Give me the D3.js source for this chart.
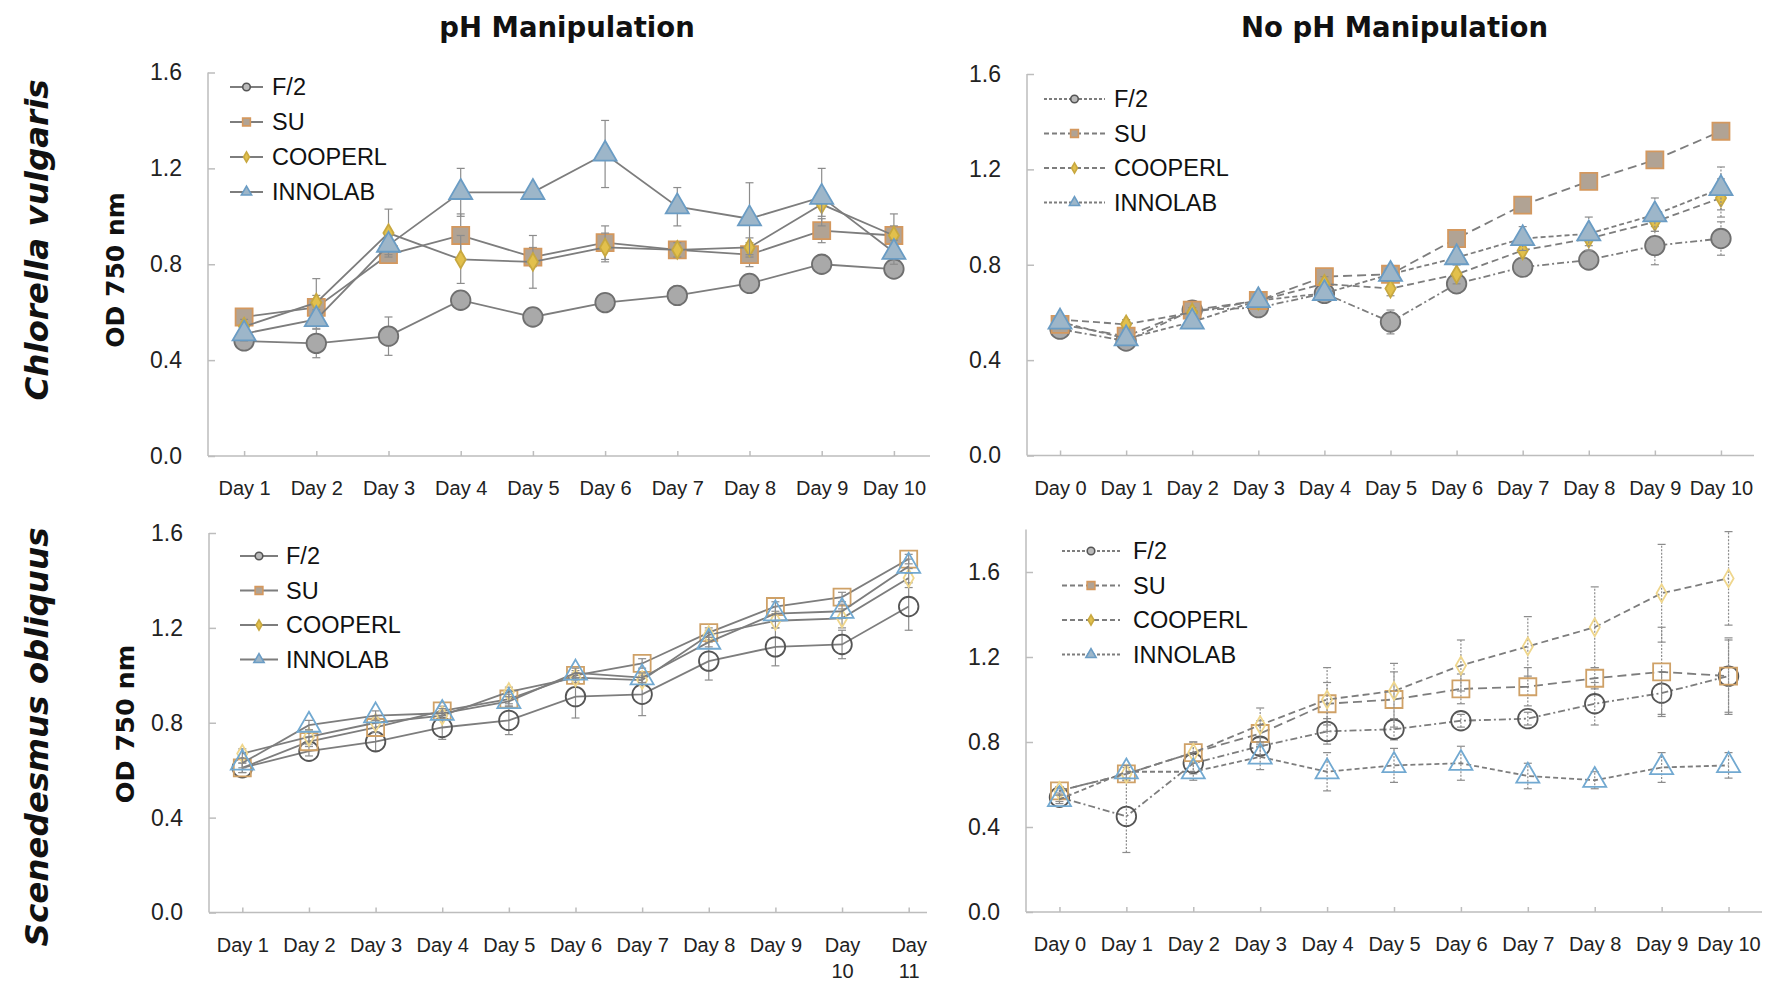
<!DOCTYPE html>
<html>
<head>
<meta charset="utf-8">
<script src="https://cdn.jsdelivr.net/npm/d3@7"></script>
<style>
  html, body { margin: 0; padding: 0; background: #ffffff; }
  svg { display: block; }
</style>
</head>
<body>
<svg id="chart" width="1771" height="985"></svg>
<script>
// ---------------- DATA ----------------
const seriesNames = ["F/2", "SU", "COOPERL", "INNOLAB"];
const yTicks = [0, 0.4, 0.8, 1.2, 1.6];

// Panel A: Chlorella vulgaris, pH manipulation
const daysA = ["Day 1","Day 2","Day 3","Day 4","Day 5","Day 6","Day 7","Day 8","Day 9","Day 10"];
const A_F2      = [0.48,0.47,0.50,0.65,0.58,0.64,0.67,0.72,0.80,0.78];
const A_F2_err  = [0.02,0.06,0.08,0.02,0.02,0.02,0.04,0.02,0.02,0.02];
const A_SU      = [0.58,0.62,0.84,0.92,0.83,0.89,0.86,0.84,0.94,0.92];
const A_SU_err  = [0.03,0.05,0.03,0.09,0.04,0.07,0.02,0.05,0.05,0.09];
const A_CO      = [0.54,0.64,0.93,0.82,0.81,0.87,0.86,0.87,1.05,0.92];
const A_CO_err  = [0.03,0.10,0.10,0.10,0.11,0.06,0.03,0.04,0.05,0.04];
const A_IN      = [0.51,0.57,0.88,1.10,1.10,1.26,1.04,0.99,1.08,0.85];
const A_IN_err  = [0.03,0.04,0.04,0.10,0.02,0.14,0.08,0.15,0.12,0.05];

// Panel B: Chlorella vulgaris, no pH manipulation
const daysB = ["Day 0","Day 1","Day 2","Day 3","Day 4","Day 5","Day 6","Day 7","Day 8","Day 9","Day 10"];
const B_F2      = [0.53,0.48,0.61,0.62,0.68,0.56,0.72,0.79,0.82,0.88,0.91];
const B_F2_err  = [0.02,0.02,0.02,0.02,0.02,0.05,0.04,0.02,0.04,0.08,0.07];
const B_SU      = [0.55,0.50,0.61,0.65,0.75,0.76,0.91,1.05,1.15,1.24,1.36];
const B_SU_err  = [0.02,0.02,0.02,0.02,0.02,0.02,0.02,0.02,0.02,0.02,0.02];
const B_CO      = [0.57,0.55,0.60,0.65,0.72,0.70,0.76,0.86,0.91,0.98,1.08];
const B_CO_err  = [0.02,0.02,0.02,0.02,0.03,0.03,0.04,0.03,0.03,0.04,0.08];
const B_IN      = [0.56,0.49,0.56,0.65,0.68,0.76,0.83,0.91,0.93,1.01,1.12];
const B_IN_err  = [0.02,0.02,0.02,0.02,0.02,0.02,0.03,0.05,0.07,0.07,0.09];

// Panel C: Scenedesmus obliquus, pH manipulation
const daysC = ["Day 1","Day 2","Day 3","Day 4","Day 5","Day 6","Day 7","Day 8","Day 9","Day 10","Day 11"];
const C_F2      = [0.61,0.68,0.72,0.78,0.81,0.91,0.92,1.06,1.12,1.13,1.29];
const C_F2_err  = [0.02,0.02,0.04,0.05,0.06,0.09,0.09,0.08,0.08,0.06,0.10];
const C_SU      = [0.61,0.72,0.78,0.85,0.90,1.00,1.05,1.18,1.29,1.33,1.49];
const C_SU_err  = [0.02,0.02,0.02,0.02,0.02,0.02,0.02,0.02,0.02,0.02,0.02];
const C_CO      = [0.67,0.74,0.80,0.83,0.93,0.99,0.98,1.17,1.23,1.24,1.41];
const C_CO_err  = [0.02,0.03,0.02,0.02,0.02,0.02,0.02,0.02,0.03,0.04,0.04];
const C_IN      = [0.63,0.79,0.83,0.84,0.89,1.01,0.99,1.14,1.26,1.27,1.46];
const C_IN_err  = [0.02,0.02,0.02,0.02,0.02,0.02,0.02,0.02,0.03,0.03,0.03];

// Panel D: Scenedesmus obliquus, no pH manipulation
const daysD = ["Day 0","Day 1","Day 2","Day 3","Day 4","Day 5","Day 6","Day 7","Day 8","Day 9","Day 10"];
const D_F2      = [0.54,0.45,0.70,0.78,0.85,0.86,0.90,0.91,0.98,1.03,1.11];
const D_F2_err  = [0.02,0.17,0.05,0.04,0.06,0.05,0.03,0.03,0.10,0.10,0.18];
const D_SU      = [0.57,0.65,0.75,0.84,0.98,1.00,1.05,1.06,1.10,1.13,1.11];
const D_SU_err  = [0.02,0.04,0.05,0.06,0.10,0.13,0.07,0.09,0.05,0.21,0.17];
const D_CO      = [0.57,0.65,0.75,0.88,1.00,1.04,1.16,1.25,1.34,1.50,1.57];
const D_CO_err  = [0.02,0.03,0.05,0.08,0.15,0.13,0.12,0.14,0.19,0.23,0.22];
const D_IN      = [0.53,0.66,0.66,0.73,0.66,0.69,0.70,0.64,0.62,0.68,0.69];
const D_IN_err  = [0.02,0.03,0.04,0.06,0.09,0.08,0.08,0.06,0.04,0.07,0.06];

// ---------------- STYLES ----------------
const symbols = [d3.symbolCircle, d3.symbolSquare, d3.symbolDiamond, d3.symbolTriangle];
const symSizes = [300, 290, 90, 230];
const legSizes = [45, 60, 30, 45];
const filledStyle = [
  {fill: "#a9a9a9", stroke: "#6f6f6f"},
  {fill: "#b1a394", stroke: "#d4985e"},
  {fill: "#e2c04c", stroke: "#c8a840"},
  {fill: "#9db6c9", stroke: "#6a9cc4"}
];
const openStyle = [
  {fill: "none", stroke: "#555555"},
  {fill: "none", stroke: "#cfa167"},
  {fill: "none", stroke: "#efd68c"},
  {fill: "none", stroke: "#72a9d1"}
];
const dashes = ["7,3,2,3", "9,5", "7,4", "5,3"];

const svg = d3.select("#chart");
const FONT = "'Liberation Sans', Arial, sans-serif";
const BOLD = "'DejaVu Sans', sans-serif";

function drawPanel(cfg) {
  const g = svg.append("g");
  const x = d3.scalePoint().domain(cfg.days).range([cfg.xl, cfg.xr]).padding(0.5);
  const y = d3.scaleLinear().domain([0, cfg.ymax]).range([cfg.y0, cfg.ytop]);

  // y axis
  const ya = g.append("g").attr("transform", `translate(${cfg.xl},0)`)
    .call(d3.axisLeft(y).tickValues(yTicks).tickFormat(d3.format(".1f"))
      .tickSizeInner(-7).tickSizeOuter(0).tickPadding(26));
  ya.select(".domain").remove();
  ya.selectAll(".tick line").attr("stroke", "#bdbdbd").attr("stroke-width", 1.5);
  ya.selectAll(".tick text").attr("font-family", FONT).attr("font-size", 23).attr("fill", "#222");
  g.append("line").attr("x1", cfg.xl).attr("x2", cfg.xl).attr("y1", cfg.y0).attr("y2", y(cfg.ymax))
    .attr("stroke", "#bdbdbd").attr("stroke-width", 1.5);

  // x axis
  const xa = g.append("g").attr("transform", `translate(0,${cfg.y0})`)
    .call(d3.axisBottom(x).tickSizeInner(-5).tickSizeOuter(0).tickPadding(25));
  xa.select(".domain").remove();
  xa.selectAll(".tick line").attr("stroke", "#bdbdbd").attr("stroke-width", 1.5);
  xa.selectAll(".tick text").attr("font-family", FONT).attr("font-size", 20).attr("fill", "#222");
  if (cfg.wrap) {
    xa.selectAll(".tick text").each(function(d) {
      const parts = d.split(" ");
      if (parts[1].length > 1) {
        const t = d3.select(this);
        t.text(null);
        t.append("tspan").attr("x", 0).text(parts[0]);
        t.append("tspan").attr("x", 0).attr("dy", "1.3em").text(parts[1]);
      }
    });
  }
  g.append("line").attr("x1", cfg.xl).attr("x2", cfg.axisEnd).attr("y1", cfg.y0).attr("y2", cfg.y0)
    .attr("stroke", "#bdbdbd").attr("stroke-width", 1.5);

  const styles = cfg.open ? openStyle : filledStyle;
  const line = d3.line().x((d, i) => x(cfg.days[i])).y(d => y(d));

  cfg.series.forEach((vals, si) => {
    const errs = cfg.errs[si];
    const sg = g.append("g");
    // error bars
    vals.forEach((v, i) => {
      const cx = x(cfg.days[i]);
      const e = errs[i];
      sg.append("line").attr("x1", cx).attr("x2", cx).attr("y1", y(v - e)).attr("y2", y(v + e))
        .attr("stroke", "#8c8c8c").attr("stroke-width", 1.2)
        .attr("stroke-dasharray", cfg.dashed ? "2,1.5" : null);
      [v - e, v + e].forEach(ev => {
        sg.append("line").attr("x1", cx - 4).attr("x2", cx + 4).attr("y1", y(ev)).attr("y2", y(ev))
          .attr("stroke", "#8c8c8c").attr("stroke-width", 1.2);
      });
    });
    // line
    sg.append("path").attr("d", line(vals)).attr("fill", "none")
      .attr("stroke", "#7d7d7d").attr("stroke-width", 1.8)
      .attr("stroke-dasharray", cfg.dashed ? dashes[si] : null);
    // markers
    const st = styles[si];
    sg.selectAll("path.mk").data(vals).enter().append("path").attr("class", "mk")
      .attr("d", d3.symbol().type(symbols[si]).size(symSizes[si]))
      .attr("transform", (d, i) => `translate(${x(cfg.days[i])},${y(d)})`)
      .attr("fill", st.fill).attr("stroke", st.stroke).attr("stroke-width", 1.8);
  });

  // legend
  const lg = g.append("g");
  seriesNames.forEach((name, si) => {
    const ly = cfg.legY + si * cfg.legStep;
    lg.append("line").attr("x1", cfg.legX1).attr("x2", cfg.legX2).attr("y1", ly).attr("y2", ly)
      .attr("stroke", "#7d7d7d").attr("stroke-width", 1.8)
      .attr("stroke-dasharray", cfg.dashed ? (si === 0 || si === 3 ? "3,2" : "5,3") : null);
    const st = filledStyle[si];
    lg.append("path").attr("d", d3.symbol().type(symbols[si]).size(legSizes[si]))
      .attr("transform", `translate(${(cfg.legX1 + cfg.legX2) / 2},${ly})`)
      .attr("fill", si === 0 ? "#bbbbbb" : st.fill).attr("stroke", si === 0 ? "#555" : st.stroke).attr("stroke-width", 1.6);
    lg.append("text").attr("x", cfg.legTX).attr("y", ly).attr("dy", "0.36em")
      .attr("font-family", FONT).attr("font-size", 23.5).attr("fill", "#111").text(name);
  });
}

drawPanel({days: daysA, xl: 208, xr: 930, axisEnd: 930, y0: 456, ytop: 72.5, ymax: 1.6,
  series: [A_F2, A_SU, A_CO, A_IN], errs: [A_F2_err, A_SU_err, A_CO_err, A_IN_err],
  open: false, dashed: false, wrap: false,
  legX1: 230, legX2: 263, legTX: 272, legY: 87, legStep: 35});

drawPanel({days: daysB, xl: 1027, xr: 1754, axisEnd: 1754, y0: 455.5, ytop: 74, ymax: 1.6,
  series: [B_F2, B_SU, B_CO, B_IN], errs: [B_F2_err, B_SU_err, B_CO_err, B_IN_err],
  open: false, dashed: true, wrap: false,
  legX1: 1044, legX2: 1105, legTX: 1114, legY: 99, legStep: 34.5});

drawPanel({days: daysC, xl: 209, xr: 942, axisEnd: 927, y0: 912.5, ytop: 533, ymax: 1.6,
  series: [C_F2, C_SU, C_CO, C_IN], errs: [C_F2_err, C_SU_err, C_CO_err, C_IN_err],
  open: true, dashed: false, wrap: true,
  legX1: 240, legX2: 278, legTX: 286, legY: 556, legStep: 34.5});

drawPanel({days: daysD, xl: 1026, xr: 1762, axisEnd: 1762, y0: 912, ytop: 529.5, ymax: 1.8,
  series: [D_F2, D_SU, D_CO, D_IN], errs: [D_F2_err, D_SU_err, D_CO_err, D_IN_err],
  open: true, dashed: true, wrap: false,
  legX1: 1062, legX2: 1120, legTX: 1133, legY: 551, legStep: 34.5});

// titles
svg.append("text").attr("x", 567).attr("y", 36.5).attr("text-anchor", "middle")
  .attr("font-family", BOLD).attr("font-weight", "bold").attr("font-size", 27.5).attr("fill", "#111")
  .text("pH Manipulation");
svg.append("text").attr("x", 1394.5).attr("y", 36.5).attr("text-anchor", "middle")
  .attr("font-family", BOLD).attr("font-weight", "bold").attr("font-size", 27.5).attr("fill", "#111")
  .text("No pH Manipulation");

// row labels
function vtext(x, y, txt, size, italic) {
  svg.append("text").attr("transform", `translate(${x},${y}) rotate(-90)`).attr("text-anchor", "middle")
    .attr("font-family", BOLD).attr("font-weight", "bold").attr("font-style", italic ? "italic" : "normal")
    .attr("font-size", size).attr("fill", "#111").text(txt);
}
vtext(48, 240, "Chlorella vulgaris", 32.5, true);
vtext(48, 737, "Scenedesmus obliquus", 32.5, true);
vtext(124, 270, "OD 750 nm", 25, false);
vtext(134, 724, "OD 750 nm", 25.5, false);
</script>
</body>
</html>
